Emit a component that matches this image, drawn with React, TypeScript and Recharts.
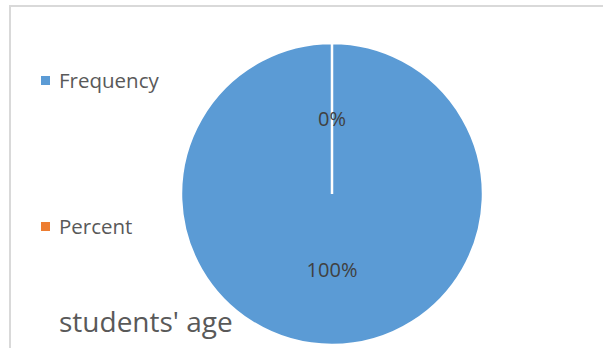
import React from 'react';
import { PieChart, Pie, Cell } from 'recharts';

const categories = ['Frequency', 'Percent'];
const values = [100, 0];
const colors = ['#5B9BD5', '#ED7D31'];
const title = "students' age";

const data = categories.map((name, i) => ({ name, value: values[i] }));

const FONT = '"Open Sans", sans-serif';
const RAD = Math.PI / 180;

const renderLabel = (props: any) => {
    const { cx, cy, midAngle, outerRadius, percent } = props;
    const r = outerRadius * 0.5;
    const x = cx + r * Math.cos(-midAngle * RAD);
    const y = cy + r * Math.sin(-midAngle * RAD);
    return (
        <text x={x} y={y} fill="#404040" fontFamily={FONT} fontSize={20} textAnchor="middle" dominantBaseline="central">
            {Math.round(percent * 100)}%
        </text>
    );
};

export default function App() {
    return (
        <div style={{ position: 'fixed', left: 0, top: 0, width: 603, height: 348, overflow: 'hidden', background: '#fff' }}>
            <div style={{ position: 'absolute', left: 9, top: 5, width: 700, height: 400, border: '2px solid #d9d9d9' }} />
            <PieChart width={603} height={348} margin={{ top: 0, right: 0, bottom: 0, left: 0 }} style={{ position: 'absolute', left: 0, top: 0 }}>
                <Pie
                    data={data}
                    dataKey="value"
                    nameKey="name"
                    cx={332}
                    cy={194}
                    outerRadius={151}
                    startAngle={90}
                    endAngle={-270}
                    stroke="#ffffff"
                    strokeWidth={2.5}
                    label={renderLabel}
                    labelLine={false}
                    isAnimationActive={false}
                >
                    {data.map((d, i) => (
                        <Cell key={d.name} fill={colors[i]} />
                    ))}
                </Pie>
            </PieChart>
            {/* legend */}
            {data.map((d, i) => (
                <div key={d.name} style={{ position: 'absolute', left: 41, top: 67 + i * 146, display: 'flex', alignItems: 'center', whiteSpace: 'nowrap' }}>
                    <span style={{ width: 9, height: 9, background: colors[i], display: 'inline-block', marginRight: 9 }} />
                    <span style={{ fontFamily: FONT, fontSize: 20.5, color: '#595959', lineHeight: '26px' }}>{d.name}</span>
                </div>
            ))}
            <div style={{ position: 'absolute', left: 59, top: 301, fontFamily: FONT, fontSize: 28, color: '#595959', lineHeight: '40px', whiteSpace: 'nowrap' }}>
                {title}
            </div>
        </div>
    );
}
